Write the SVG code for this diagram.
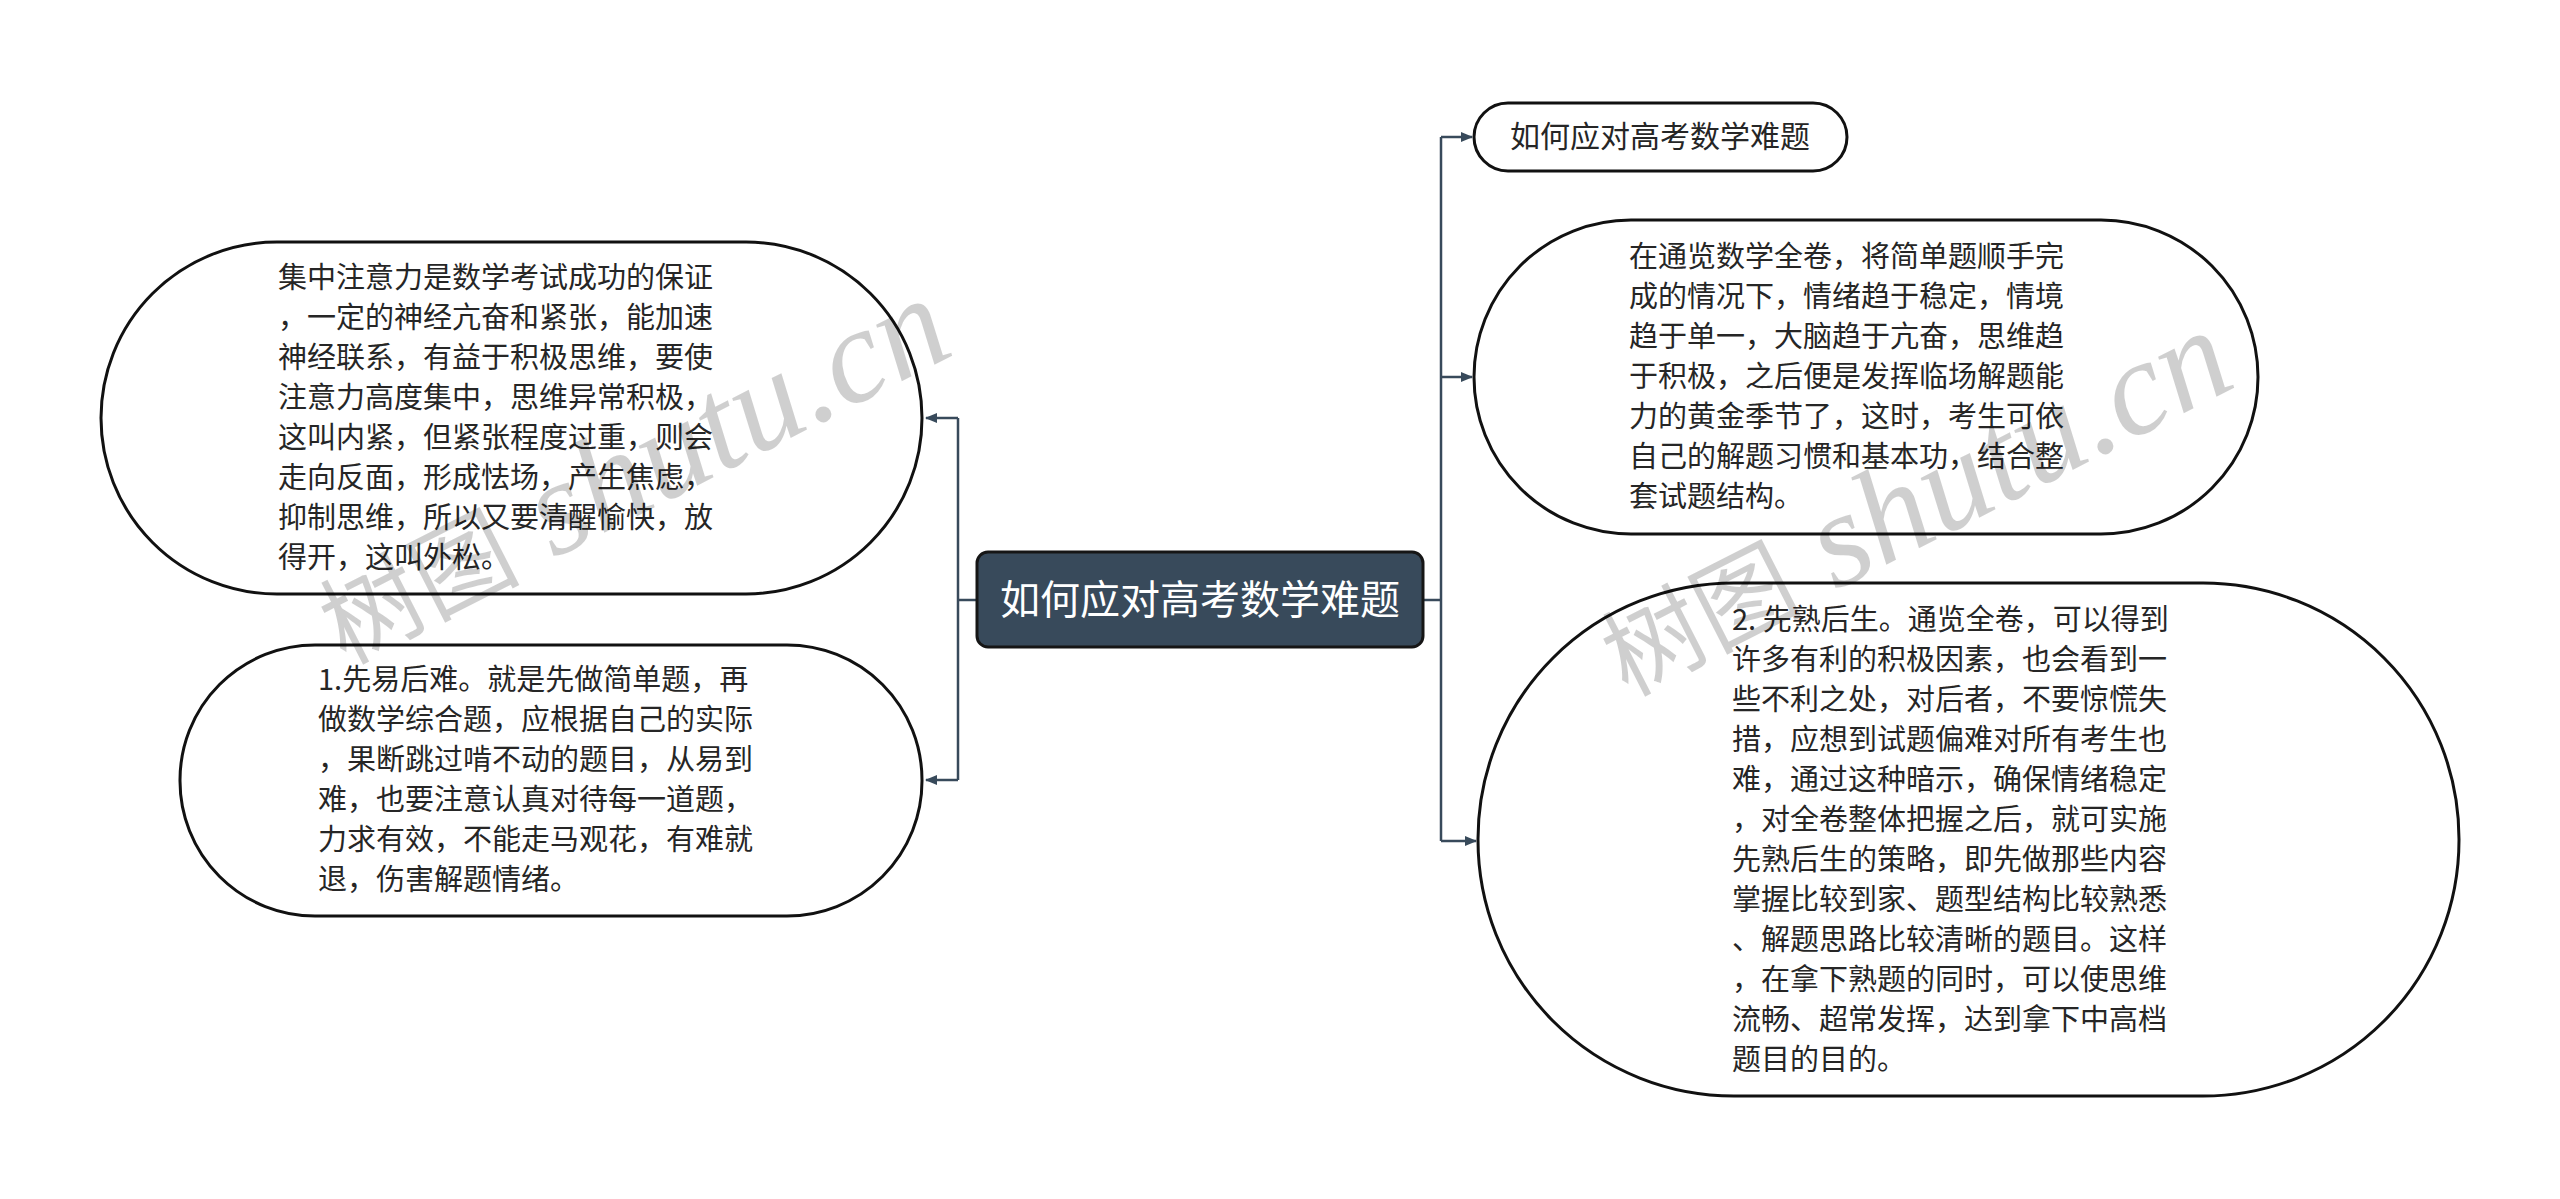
<svg xmlns="http://www.w3.org/2000/svg" width="2560" height="1199" viewBox="0 0 2560 1199">
<defs>
<style>
.bg{fill:#ffffff}
.node{fill:#ffffff;stroke:#111111;stroke-width:3}
.root{fill:#384a5b;stroke:#161616;stroke-width:3}
.t{font-family:"Noto Sans CJK SC","Noto Sans",sans-serif;font-size:29px;fill:#262626}
.rt{font-family:"Noto Sans CJK SC","Noto Sans",sans-serif;font-size:40px;fill:#ffffff}
.st{font-family:"Noto Sans CJK SC","Noto Sans",sans-serif;font-size:30px;fill:#262626}
.edge{fill:none;stroke:#384a5b;stroke-width:2.5}
.wm{fill:#000000;fill-opacity:0.19}
.wmc{font-family:"Noto Sans CJK SC",sans-serif;font-size:100px}
.wml{font-family:"Liberation Serif",serif;font-style:italic;font-size:135px}
</style>
<marker id="arr" markerWidth="12" markerHeight="10" refX="11" refY="5" orient="auto" markerUnits="userSpaceOnUse">
<path d="M0,0 L12,5 L0,10 z" fill="#384a5b"/>
</marker>
</defs>
<rect class="bg" x="0" y="0" width="2560" height="1199"/>

<g id="connectors">
<path class="edge" d="M977,600 H958"/>
<path class="edge" d="M958,418 V780"/>
<path class="edge" d="M958,418 H926" marker-end="url(#arr)"/>
<path class="edge" d="M958,780 H926" marker-end="url(#arr)"/>
<path class="edge" d="M1423,600 H1441"/>
<path class="edge" d="M1441,137 V841"/>
<path class="edge" d="M1441,137 H1472" marker-end="url(#arr)"/>
<path class="edge" d="M1441,377 H1472" marker-end="url(#arr)"/>
<path class="edge" d="M1441,841 H1476" marker-end="url(#arr)"/>
</g>

<g id="root">
<rect class="root" x="977" y="552" width="446" height="95" rx="11" ry="11"/>
<text class="rt" x="1200" y="614" text-anchor="middle">如何应对高考数学难题</text>
</g>

<g id="left1">
<rect class="node" x="101" y="242" width="821" height="352" rx="176" ry="176"/>
<text class="t">
<tspan x="278" y="288">集中注意力是数学考试成功的保证</tspan>
<tspan x="278" dy="40">，一定的神经亢奋和紧张，能加速</tspan>
<tspan x="278" dy="40">神经联系，有益于积极思维，要使</tspan>
<tspan x="278" dy="40">注意力高度集中，思维异常积极，</tspan>
<tspan x="278" dy="40">这叫内紧，但紧张程度过重，则会</tspan>
<tspan x="278" dy="40">走向反面，形成怯场，产生焦虑，</tspan>
<tspan x="278" dy="40">抑制思维，所以又要清醒愉快，放</tspan>
<tspan x="278" dy="40">得开，这叫外松。</tspan>
</text>
</g>

<g id="left2">
<rect class="node" x="180" y="645" width="742" height="271" rx="135" ry="135"/>
<text class="t">
<tspan x="318" y="690">1.先易后难。就是先做简单题，再</tspan>
<tspan x="318" dy="40">做数学综合题，应根据自己的实际</tspan>
<tspan x="318" dy="40">，果断跳过啃不动的题目，从易到</tspan>
<tspan x="318" dy="40">难，也要注意认真对待每一道题，</tspan>
<tspan x="318" dy="40">力求有效，不能走马观花，有难就</tspan>
<tspan x="318" dy="40">退，伤害解题情绪。</tspan>
</text>
</g>

<g id="right1">
<rect class="node" x="1474" y="103" width="373" height="68" rx="34" ry="34"/>
<text class="st" x="1660" y="147" text-anchor="middle">如何应对高考数学难题</text>
</g>

<g id="right2">
<rect class="node" x="1474" y="220" width="784" height="314" rx="157" ry="157"/>
<text class="t">
<tspan x="1629" y="267">在通览数学全卷，将简单题顺手完</tspan>
<tspan x="1629" dy="40">成的情况下，情绪趋于稳定，情境</tspan>
<tspan x="1629" dy="40">趋于单一，大脑趋于亢奋，思维趋</tspan>
<tspan x="1629" dy="40">于积极，之后便是发挥临场解题能</tspan>
<tspan x="1629" dy="40">力的黄金季节了，这时，考生可依</tspan>
<tspan x="1629" dy="40">自己的解题习惯和基本功，结合整</tspan>
<tspan x="1629" dy="40">套试题结构。</tspan>
</text>
</g>

<g id="right3">
<rect class="node" x="1478" y="583" width="981" height="513" rx="256" ry="256"/>
<text class="t">
<tspan x="1732" y="630">2. 先熟后生。通览全卷，可以得到</tspan>
<tspan x="1732" dy="40">许多有利的积极因素，也会看到一</tspan>
<tspan x="1732" dy="40">些不利之处，对后者，不要惊慌失</tspan>
<tspan x="1732" dy="40">措，应想到试题偏难对所有考生也</tspan>
<tspan x="1732" dy="40">难，通过这种暗示，确保情绪稳定</tspan>
<tspan x="1732" dy="40">，对全卷整体把握之后，就可实施</tspan>
<tspan x="1732" dy="40">先熟后生的策略，即先做那些内容</tspan>
<tspan x="1732" dy="40">掌握比较到家、题型结构比较熟悉</tspan>
<tspan x="1732" dy="40">、解题思路比较清晰的题目。这样</tspan>
<tspan x="1732" dy="40">，在拿下熟题的同时，可以使思维</tspan>
<tspan x="1732" dy="40">流畅、超常发挥，达到拿下中高档</tspan>
<tspan x="1732" dy="40">题目的目的。</tspan>
</text>
</g>

<g id="watermarks" class="wm">
<text transform="translate(345,665) rotate(-27)"><tspan class="wmc">树图</tspan><tspan class="wml"> shutu.cn</tspan></text>
<text transform="translate(1627,697) rotate(-27)"><tspan class="wmc">树图</tspan><tspan class="wml"> shutu.cn</tspan></text>
</g>
</svg>
